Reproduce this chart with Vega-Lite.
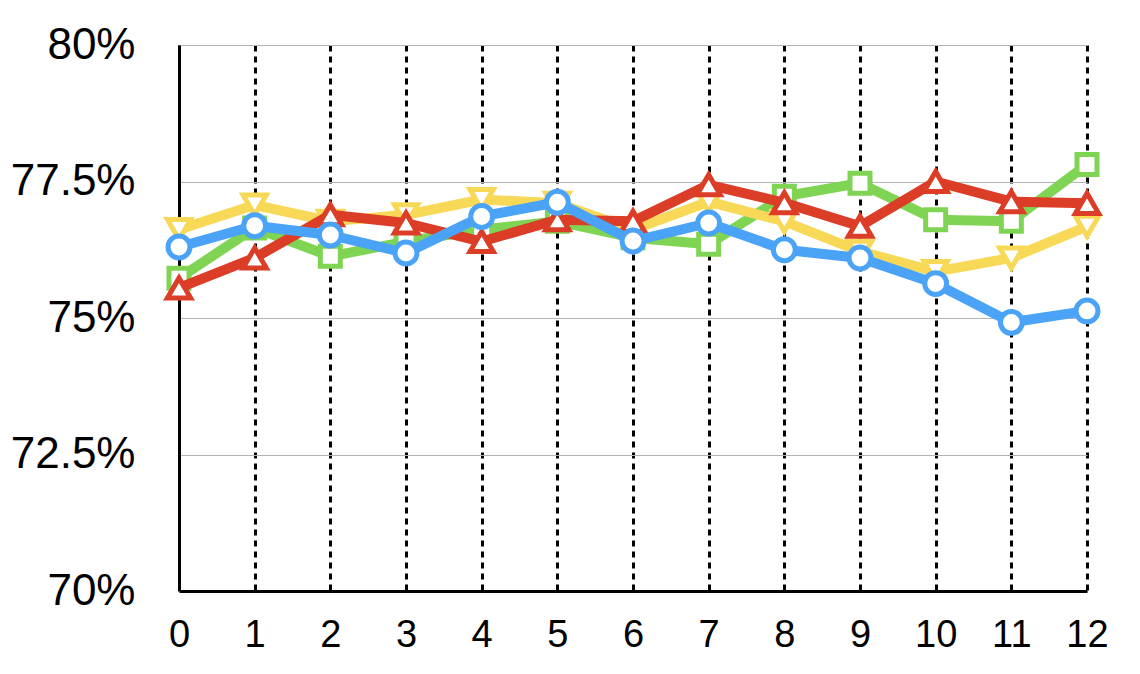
{
  "$schema": "https://vega.github.io/schema/vega-lite/v6.json",
  "autosize": {"type": "none"},
  "width": 908,
  "height": 546,
  "padding": {"left": 179, "top": 45, "right": 53, "bottom": 83},
  "background": "white",
  "config": {"view": {"stroke": null}},
  "data": {"values": [
    {"x": 0, "s": "green", "v": 75.73}, {"x": 1, "s": "green", "v": 76.65}, {"x": 2, "s": "green", "v": 76.13}, {"x": 3, "s": "green", "v": 76.40}, {"x": 4, "s": "green", "v": 76.62}, {"x": 5, "s": "green", "v": 76.77}, {"x": 6, "s": "green", "v": 76.47}, {"x": 7, "s": "green", "v": 76.35}, {"x": 8, "s": "green", "v": 77.23}, {"x": 9, "s": "green", "v": 77.47}, {"x": 10, "s": "green", "v": 76.80}, {"x": 11, "s": "green", "v": 76.77}, {"x": 12, "s": "green", "v": 77.81},
    {"x": 0, "s": "yellow", "v": 76.62}, {"x": 1, "s": "yellow", "v": 77.07}, {"x": 2, "s": "yellow", "v": 76.77}, {"x": 3, "s": "yellow", "v": 76.89}, {"x": 4, "s": "yellow", "v": 77.17}, {"x": 5, "s": "yellow", "v": 77.10}, {"x": 6, "s": "yellow", "v": 76.62}, {"x": 7, "s": "yellow", "v": 77.13}, {"x": 8, "s": "yellow", "v": 76.77}, {"x": 9, "s": "yellow", "v": 76.22}, {"x": 10, "s": "yellow", "v": 75.85}, {"x": 11, "s": "yellow", "v": 76.10}, {"x": 12, "s": "yellow", "v": 76.68},
    {"x": 0, "s": "red", "v": 75.55}, {"x": 1, "s": "red", "v": 76.10}, {"x": 2, "s": "red", "v": 76.89}, {"x": 3, "s": "red", "v": 76.74}, {"x": 4, "s": "red", "v": 76.40}, {"x": 5, "s": "red", "v": 76.80}, {"x": 6, "s": "red", "v": 76.77}, {"x": 7, "s": "red", "v": 77.44}, {"x": 8, "s": "red", "v": 77.11}, {"x": 9, "s": "red", "v": 76.68}, {"x": 10, "s": "red", "v": 77.50}, {"x": 11, "s": "red", "v": 77.13}, {"x": 12, "s": "red", "v": 77.10},
    {"x": 0, "s": "blue", "v": 76.30}, {"x": 1, "s": "blue", "v": 76.69}, {"x": 2, "s": "blue", "v": 76.52}, {"x": 3, "s": "blue", "v": 76.19}, {"x": 4, "s": "blue", "v": 76.86}, {"x": 5, "s": "blue", "v": 77.12}, {"x": 6, "s": "blue", "v": 76.41}, {"x": 7, "s": "blue", "v": 76.74}, {"x": 8, "s": "blue", "v": 76.25}, {"x": 9, "s": "blue", "v": 76.10}, {"x": 10, "s": "blue", "v": 75.63}, {"x": 11, "s": "blue", "v": 74.92}, {"x": 12, "s": "blue", "v": 75.13}
  ]},
  "encoding": {
    "x": {"field": "x", "type": "quantitative",
      "scale": {"domain": [0, 12], "nice": false, "zero": false},
      "axis": {"title": null, "values": [0,1,2,3,4,5,6,7,8,9,10,11,12], "labelFont": "Liberation Sans", "labelFontSize": 38, "labelColor": "black", "labelPadding": 25, "ticks": false, "domainColor": "black", "domainWidth": 3, "grid": true, "gridColor": "black", "gridDash": [6, 5], "gridWidth": 3, "labelFlush": false}},
    "y": {"field": "v", "type": "quantitative",
      "scale": {"domain": [70, 80], "nice": false, "zero": false},
      "axis": {"title": null, "values": [70, 72.5, 75, 77.5, 80], "labelExpr": "datum.value + '%'", "labelFont": "Liberation Sans", "labelFontSize": 44, "labelColor": "black", "labelPadding": 44, "ticks": false, "domainColor": "black", "domainWidth": 3, "grid": true, "gridColor": "#b4b4b4", "gridWidth": 1.2, "labelFlush": false}}
  },
  "layer": [
    {"transform": [{"filter": "datum.s == 'green'"}], "mark": {"type": "line", "color": "#80d453", "strokeWidth": 10, "strokeJoin": "round"}},
    {"transform": [{"filter": "datum.s == 'green'"}], "mark": {"type": "point", "shape": "square", "filled": true, "fill": "white", "stroke": "#80d453", "strokeWidth": 5, "size": 400, "opacity": 1}},
    {"transform": [{"filter": "datum.s == 'yellow'"}], "mark": {"type": "line", "color": "#f8d957", "strokeWidth": 10, "strokeJoin": "round"}},
    {"transform": [{"filter": "datum.s == 'yellow'"}], "mark": {"type": "point", "shape": "triangle-down", "filled": true, "fill": "white", "stroke": "#f8d957", "strokeWidth": 5, "size": 540, "opacity": 1}},
    {"transform": [{"filter": "datum.s == 'red'"}], "mark": {"type": "line", "color": "#dc3d26", "strokeWidth": 10, "strokeJoin": "round"}},
    {"transform": [{"filter": "datum.s == 'red'"}], "mark": {"type": "point", "shape": "triangle-up", "filled": true, "fill": "white", "stroke": "#dc3d26", "strokeWidth": 5, "size": 540, "opacity": 1}},
    {"transform": [{"filter": "datum.s == 'blue'"}], "mark": {"type": "line", "color": "#4aa3f7", "strokeWidth": 10, "strokeJoin": "round"}},
    {"transform": [{"filter": "datum.s == 'blue'"}], "mark": {"type": "point", "shape": "circle", "filled": true, "fill": "white", "stroke": "#4aa3f7", "strokeWidth": 5, "size": 480, "opacity": 1}}
  ]
}
